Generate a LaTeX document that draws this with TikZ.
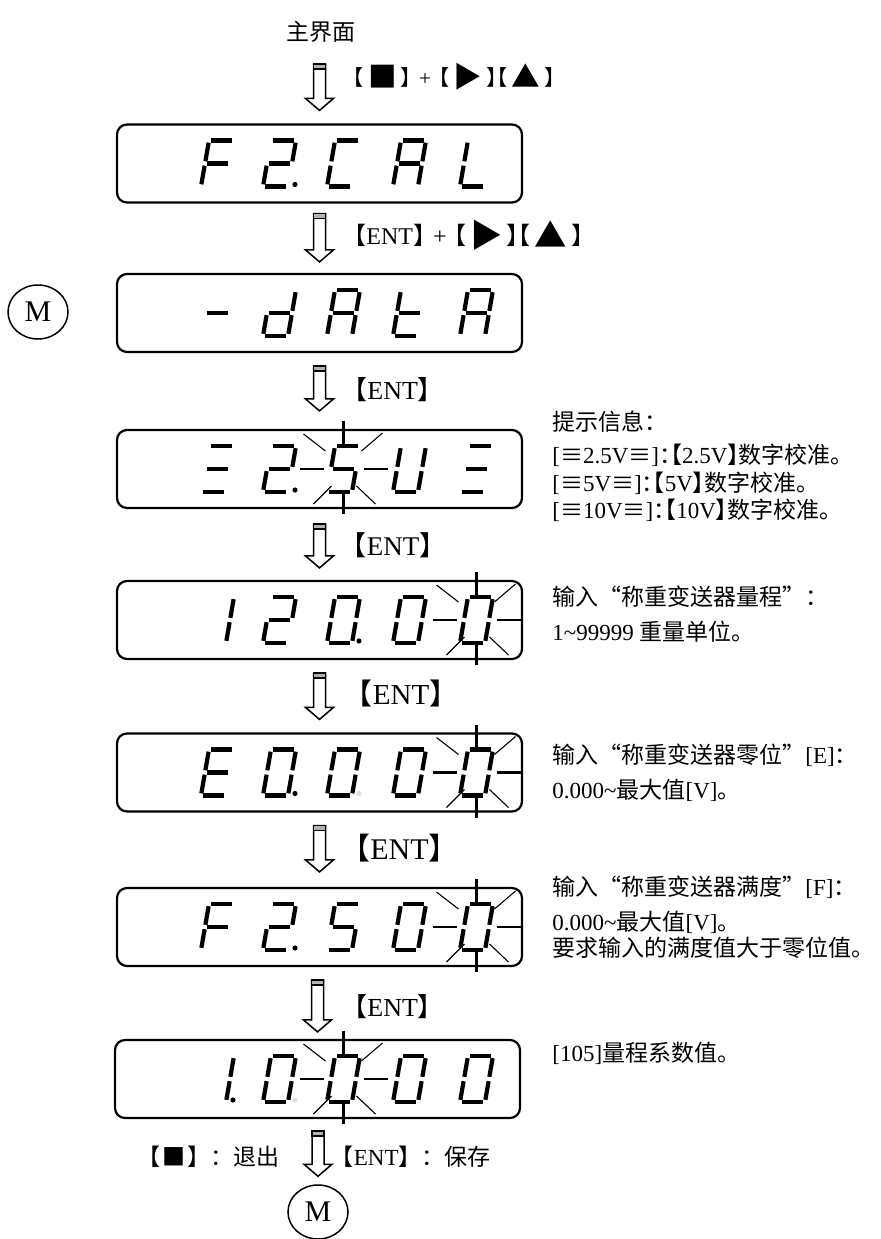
\documentclass[tikz,border=0pt]{standalone}
\usepackage{fontspec}
\setmainfont{Liberation Serif}
\newfontfamily\zh{Noto Sans CJK SC}
\newfontfamily\zhh[RawFeature=+halt]{Noto Sans CJK SC}
\usetikzlibrary{calc,shapes.geometric}

\newcommand{\lbk}{{\zhh 【}}
\newcommand{\rbk}{{\zhh 】}}
\newcommand{\sym}[1]{\raisebox{-0.12em}{\scalebox{1.35}{\zh #1}}}

\tikzset{
  dispbox/.style={draw, line width=1.1pt, rounded corners=5pt, minimum width=202.5pt, minimum height=39pt, inner sep=0pt},
  seg/.style={line width=2.1pt, shorten <=1.1pt, shorten >=1.1pt},
  ray/.style={line width=1.1pt},
  thinray/.style={line width=0.55pt},
  arrowbody/.style={line width=0.75pt},
  keylabel/.style={anchor=west, inner sep=0pt, font=\fontsize{13}{15}\selectfont},
  hint/.style={anchor=west, inner sep=0pt, align=left, font=\fontsize{11.5}{13.75}\selectfont},
  mcircle/.style={draw, ellipse, line width=0.75pt, minimum width=30pt, minimum height=27pt, inner sep=0pt, font=\fontsize{15}{15}\selectfont},
}

\begin{document}
\begin{tikzpicture}[x=0.5pt, y=-0.5pt]
  \useasboundingbox (0,0) rectangle (880,1239);
  \def\sga{\draw[seg] (8,-46) -- (33,-46);}
  \def\sgb{\draw[seg] (33,-46) -- (29,-23);}
  \def\sgc{\draw[seg] (29,-23) -- (25,0);}
  \def\sgd{\draw[seg] (0,0) -- (25,0);}
  \def\sge{\draw[seg] (4,-23) -- (0,0);}
  \def\sgf{\draw[seg] (8,-46) -- (4,-23);}
  \def\sgg{\draw[seg] (4,-23) -- (29,-23);}
  \def\sgp{\fill (32,-2) circle (1.3pt);}
  \def\sgq{\fill[gray!25] (32,-2) circle (1.3pt);}
  \def\digit#1#2#3{\begin{scope}[shift={(#1,#2)}]\foreach \s in {#3}{\csname sg\s\endcsname}\end{scope}}
  \def\blink#1#2{\begin{scope}[shift={(#1,#2)}]
    \draw[ray] (0,-48) -- (0,-25) (0,22) -- (0,45) (-44,0) -- (-20,0) (20,0) -- (44,0);
    \draw[thinray] (-40,-35) -- (-18,-18) (18,-18) -- (39,-36) (-30,35) -- (-12,17) (13,17) -- (32,35);
  \end{scope}}
  \def\hollowarrow#1#2{
    \path ($#1$) coordinate (aT) ($#2$) coordinate (aP);
    \coordinate (aS) at (aP |- aT);
    \draw[arrowbody] ($(aS)+(-6,0)$) -- ($(aP)+(-6,-12)$) -- ($(aP)+(-14,-12)$) -- (aP) -- ($(aP)+(14,-12)$) -- ($(aP)+(6,-12)$) -- ($(aS)+(6,0)$) -- cycle;
    \draw[arrowbody, fill=gray!60] ($(aS)+(-6,0)$) rectangle ($(aS)+(6,5)$);
  }

  \node[hint, anchor=center] (main) at (321,32) {\zh 主界面};
  \node[mcircle] (m1) at (38,312) {M};
  \node[mcircle] (m2) at (318,1212) {M};

  \node[dispbox] (d1) at (319.5,163.5) {};
  \digit{201}{186.5}{a,f,g,e}
  \digit{263}{186.5}{a,b,g,e,d,p}
  \digit{327}{186.5}{a,f,e,d}
  \digit{393}{186.5}{a,b,c,e,f,g}
  \digit{460}{186.5}{f,e,d}

  \node[dispbox] (d2) at (319.5,313) {};
  \digit{201}{336}{g}
  \digit{263}{336}{b,c,d,e,g}
  \digit{327}{336}{a,b,c,e,f,g}
  \digit{393}{336}{f,e,d,g}
  \digit{460}{336}{a,b,c,e,f,g}

  \node[dispbox] (d3) at (319.5,469) {};
  \digit{201}{492}{a,g,d}
  \digit{263}{492}{a,b,g,e,d,p}
  \digit{327}{492}{a,f,g,c,d}
  \digit{393}{492}{b,c,d,e,f}
  \digit{460}{492}{a,g,d}
  \blink{343.5}{469}

  \node[dispbox] (d4) at (319.5,620) {};
  \digit{201}{643}{b,c}
  \digit{263}{643}{a,b,g,e,d}
  \digit{327}{643}{a,b,c,d,e,f,p}
  \digit{393}{643}{a,b,c,d,e,f}
  \digit{460}{643}{a,b,c,d,e,f}
  \blink{476.5}{620}

  \node[dispbox] (d5) at (319.5,772.5) {};
  \digit{201}{795.5}{a,f,g,e,d}
  \digit{263}{795.5}{a,b,c,d,e,f,p}
  \digit{327}{795.5}{a,b,c,d,e,f,q}
  \digit{393}{795.5}{a,b,c,d,e,f}
  \digit{460}{795.5}{a,b,c,d,e,f}
  \blink{476.5}{772.5}

  \node[dispbox] (d6) at (319.5,927) {};
  \digit{201}{950}{a,f,g,e}
  \digit{263}{950}{a,b,g,e,d,p}
  \digit{327}{950}{a,f,g,c,d}
  \digit{393}{950}{a,b,c,d,e,f}
  \digit{460}{950}{a,b,c,d,e,f}
  \blink{476.5}{927}

  \node[dispbox] (d7) at (317.5,1079) {};
  \digit{201}{1102}{b,c,p}
  \digit{263}{1102}{a,b,c,d,e,f,q}
  \digit{327}{1102}{a,b,c,d,e,f}
  \digit{393}{1102}{a,b,c,d,e,f}
  \digit{460}{1102}{a,b,c,d,e,f}
  \blink{343.5}{1079}

  \hollowarrow{(main.south)+(0,21)}{(d1.north)+(0,-13)}
  \hollowarrow{(d1.south)+(0,10)}{(d2.north)+(0,-11)}
  \hollowarrow{(d2.south)+(0,13)}{(d3.north)+(0,-18)}
  \hollowarrow{(d3.south)+(0,15)}{(d4.north)+(0,-12)}
  \hollowarrow{(d4.south)+(0,13)}{(d5.north)+(0,-13)}
  \hollowarrow{(d5.south)+(0,13)}{(d6.north)+(0,-15)}
  \hollowarrow{(d6.south)+(0,13)}{(d7.north)+(0,-7)}
  \hollowarrow{(d7.south)+(0,12)}{(m2.north)+(0,-8)}

  \node[keylabel, font=\fontsize{10.6}{13}\selectfont] (k1) at (353,77) {\lbk\hspace{2pt}\sym{■}\hspace{2pt}\rbk\hspace{4pt}+\hspace{4pt}\lbk\hspace{2pt}\sym{▶}\hspace{2pt}\rbk\lbk\hspace{2pt}\sym{▲}\hspace{2pt}\rbk};
  \node[keylabel, font=\fontsize{12}{14}\selectfont] (k2) at (354,235) {\lbk ENT\rbk\hspace{4pt}+\hspace{4pt}\lbk\hspace{2pt}\sym{▶}\hspace{2pt}\rbk\lbk\hspace{2pt}\sym{▲}\hspace{2pt}\rbk};
  \node[keylabel] (k3) at (354,390) {\lbk ENT\rbk};
  \node[keylabel, font=\fontsize{13.5}{15}\selectfont] (k4) at (353,545) {\lbk ENT\rbk};
  \node[keylabel, font=\fontsize{14.5}{16}\selectfont] (k5) at (358,693) {\lbk ENT\rbk};
  \node[keylabel, font=\fontsize{15}{17}\selectfont] (k6) at (355,848) {\lbk ENT\rbk};
  \node[keylabel] (k7) at (354,1007) {\lbk ENT\rbk};
  \node[keylabel, font=\fontsize{11.5}{13}\selectfont] (k8) at (149,1157) {\lbk\hspace{1pt}{\zh ■}\hspace{1pt}{\zh 】：退出}};
  \node[keylabel, font=\fontsize{11.5}{13}\selectfont] (k9) at (342,1157) {\lbk ENT{\zh 】：保存}};

  \node[hint] (h1) at (552,422) {\zh 提示信息：};
  \node[hint] (h2) at (552,483) {{[}{\zh ≡}2.5V{\zh ≡}]{\zhh ：}\lbk 2.5V\rbk{\zh 数字校准。}\\
    {[}{\zh ≡}5V{\zh ≡}]{\zhh ：}\lbk 5V\rbk{\zh 数字校准。}\\
    {[}{\zh ≡}10V{\zh ≡}]{\zhh ：}\lbk 10V\rbk{\zh 数字校准。}};
  \node[hint] (h5) at (552,597) {\zh 输入“称重变送器量程”：};
  \node[hint] (h6) at (552,632) {1\textasciitilde 99999 {\zh 重量单位。}};
  \node[hint] (h7) at (552,755) {{\zh 输入“称重变送器零位”}[E]{\zh ：}};
  \node[hint] (h8) at (552,790) {0.000\textasciitilde{\zh 最大值}[V]{\zh 。}};
  \node[hint, font=\fontsize{11.5}{13}\selectfont] (h9) at (552,917.5) {{\zh 输入“称重变送器满度”}[F]{\zh ：}\\[4.5pt]
    0.000\textasciitilde{\zh 最大值}[V]{\zh 。}\\
    {\zh 要求输入的满度值大于零位值。}};
  \node[hint] (h12) at (552,1053) {[105]{\zh 量程系数值。}};
\end{tikzpicture}
\end{document}
